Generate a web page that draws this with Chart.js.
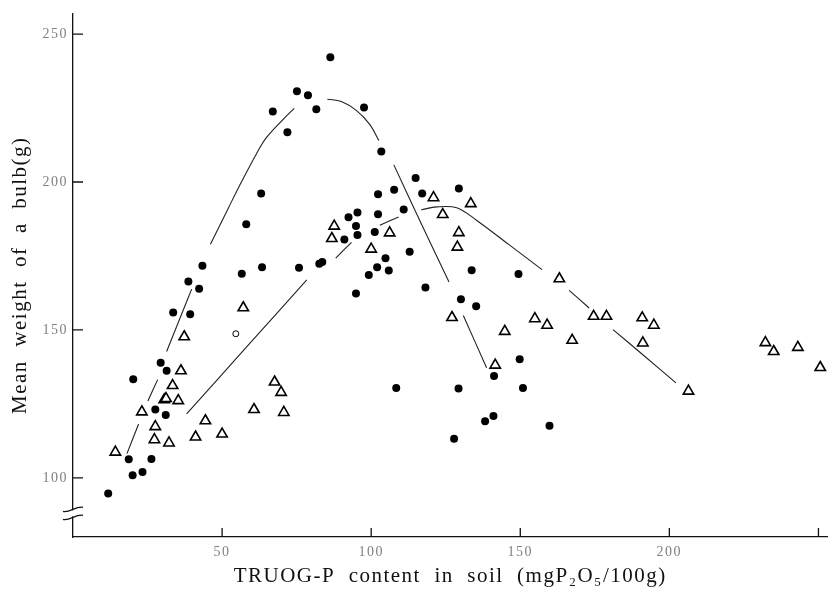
<!DOCTYPE html>
<html>
<head>
<meta charset="utf-8">
<script src="https://cdn.jsdelivr.net/npm/chart.js@4.4.1/dist/chart.umd.min.js"></script>
<style>
  html, body { margin: 0; padding: 0; background: #fff; }
  #wrap { width: 835px; height: 589px; }
</style>
</head>
<body>
<div id="wrap"><canvas id="bulbChart"></canvas></div>
<script>
// filled dots [P content, mean weight]
const solidPts = [
  [11.8, 94.7], [20, 100.9], [23.3, 102], [18.7, 106.3], [26.3, 106.4],
  [20.2, 133.3], [27.6, 123.1], [31.1, 121.2], [29.4, 138.9], [31.4, 136.2],
  [33.6, 155.9], [39.3, 155.3], [38.7, 166.4], [42.3, 163.9], [43.4, 171.7],
  [56.6, 169], [58.1, 185.7], [63.1, 196.1], [63.4, 171.2], [67, 223.8],
  [71.9, 216.8], [75.1, 230.7], [78.8, 229.3], [81.6, 224.6], [86.3, 242.2],
  [97.6, 225.2], [103.4, 210.3], [75.8, 171], [82.6, 172.4], [83.6, 173],
  [94.9, 162.3], [91, 180.6], [92.4, 188.1], [95.4, 189.7], [94.9, 185.1],
  [95.4, 182.1], [101.2, 183.1], [102.3, 189.1], [102.3, 195.9], [107.7, 197.4],
  [110.9, 190.7], [114.9, 201.4], [117.1, 196.1], [112.9, 176.4], [104.8, 174.2],
  [102, 171.2], [105.9, 170.1], [99.2, 168.6], [118.2, 164.3], [129.4, 197.8],
  [133.7, 170.2], [130.1, 160.4], [135.2, 158], [149.4, 168.9], [149.8, 140.1],
  [141.2, 134.4], [129.3, 130.2], [150.9, 130.4], [108.4, 130.4], [141, 120.9],
  [138.2, 119.1], [159.8, 117.6], [127.8, 113.2]
];

// open triangles
const trianglePts = [
  [14.2, 108.7], [23.1, 122.3], [27.6, 117.3], [27.3, 112.9], [32.2, 111.8],
  [30.6, 126.4], [31.2, 126.8], [35.3, 126.1], [33.4, 131.2], [36.2, 136.2],
  [37.3, 147.7], [41.1, 113.8], [44.4, 119.3], [50, 114.8], [57.1, 157.5],
  [60.7, 123.1], [67.6, 132.4], [69.8, 128.9], [70.7, 122.1], [87.6, 185.1],
  [86.8, 180.9], [100, 177.3], [106.2, 182.8], [120.9, 194.7], [124, 189],
  [133.4, 192.7], [129.4, 182.9], [128.9, 178], [127.1, 154.2], [141.6, 138.1],
  [144.8, 149.5], [154.9, 153.8], [159, 151.6], [163.1, 167.3], [167.4, 146.5],
  [174.6, 154.6], [178.9, 154.6], [190.9, 154.1], [194.8, 151.6], [191.1, 145.6],
  [206.4, 129.3], [232.2, 145.7], [235, 142.7], [243.1, 144.1], [250.6, 137.3]
];

// open circle
const openPts = [[54.6, 148.7]];

// fitted curves, null = gap in the pen line
const curveA = [
  [18.1, 108.2], [22, 118.2], null,
  [25.1, 126], [28.4, 133.2], null,
  [31.4, 142.7], [35.5, 153], [39.8, 163.8], null,
  [46.1, 179], [52, 191], [57, 201], [61.5, 209.5], [64.8, 214.9], [70.9, 221.6], [74.2, 224.9], null,
  [85.3, 228], [90, 227.2], [95, 224.2], [99.5, 219.5], [102.6, 214], null,
  [107.6, 205.8], [117, 185.5], [126.1, 166.2], null,
  [130.9, 154.9], [138.7, 137.2]
];
const curveB = [
  [38.1, 121.6], [58, 144], [78.4, 166.9], null,
  [88.1, 174.3], [93.4, 179.6], null,
  [102.9, 185.4], [109.2, 188.2], null,
  [116.8, 190.6], [122, 191.6], [128.7, 191.3], [135.3, 187.1], [146, 179], [157.3, 170.4], null,
  [166.4, 163.4], [173.1, 157.4], null,
  [181.1, 150.1], [191, 141.7], [202.2, 132.1]
];

const xTicks = [50, 100, 150, 200, 250];
const xTickLabels = ['50', '100', '150', '200', ''];
const yTicks = [100, 150, 200, 250];
const yBreak = 88;

const serif = "'Liberation Serif', 'DejaVu Serif', serif";

function toXY(list) {
  let lastX = 0;
  return list.map(p => {
    if (!p) return { x: lastX, y: null };
    lastX = p[0];
    return { x: p[0], y: p[1] };
  });
}

// ticks pointing into the plot + the broken y axis mark
const axisMarks = {
  id: 'axisMarks',
  beforeDraw(chart) {
    chart.ctx.letterSpacing = '1.5px';
  },
  afterDraw(chart) {
    const { ctx, scales: { x, y } } = chart;
    ctx.save();
    ctx.strokeStyle = '#111';
    ctx.lineWidth = 1.3;
    ctx.beginPath();
    xTicks.forEach(v => {
      const px = x.getPixelForValue(v);
      ctx.moveTo(px, y.bottom);
      ctx.lineTo(px, y.bottom - 9);
    });
    yTicks.forEach(v => {
      const py = y.getPixelForValue(v);
      ctx.moveTo(x.left, py);
      ctx.lineTo(x.left + 10, py);
    });
    ctx.stroke();

    const by = y.getPixelForValue(yBreak);
    const ax = x.left;
    ctx.fillStyle = '#fff';
    ctx.fillRect(ax - 2, by - 3, 4, 6);
    ctx.beginPath();
    [-4, 4].forEach(d => {
      ctx.moveTo(ax - 10, by + d + 2);
      ctx.bezierCurveTo(ax - 4, by + d + 4, ax + 4, by + d - 4, ax + 10, by + d - 2);
    });
    ctx.stroke();
    ctx.restore();
  }
};

const ctx = document.getElementById('bulbChart');

new Chart(ctx, {
  type: 'scatter',
  data: {
    datasets: [
      {
        type: 'line',
        data: toXY(curveA),
        borderColor: '#222',
        borderWidth: 1.1,
        pointRadius: 0,
        tension: 0.35,
        spanGaps: false,
        fill: false
      },
      {
        type: 'line',
        data: toXY(curveB),
        borderColor: '#222',
        borderWidth: 1.1,
        pointRadius: 0,
        tension: 0.35,
        spanGaps: false,
        fill: false
      },
      {
        data: solidPts.map(p => ({ x: p[0], y: p[1] })),
        pointStyle: 'circle',
        pointRadius: 4,
        backgroundColor: '#000',
        borderWidth: 0
      },
      {
        data: trianglePts.map(p => ({ x: p[0], y: p[1] })),
        pointStyle: 'triangle',
        pointRadius: 6,
        backgroundColor: '#fff',
        borderColor: '#000',
        borderWidth: 1.6
      },
      {
        data: openPts.map(p => ({ x: p[0], y: p[1] })),
        pointStyle: 'circle',
        pointRadius: 3,
        backgroundColor: '#fff',
        borderColor: '#000',
        borderWidth: 1
      }
    ]
  },
  options: {
    responsive: true,
    maintainAspectRatio: false,
    animation: false,
    layout: { padding: { top: 7, right: 2, left: 0, bottom: 0 } },
    plugins: {
      legend: { display: false },
      tooltip: { enabled: false }
    },
    scales: {
      x: {
        type: 'linear',
        min: 0,
        max: 253,
        grid: { display: false, drawTicks: false },
        border: { color: '#111', width: 1.3 },
        afterBuildTicks: axis => { axis.ticks = xTicks.map(v => ({ value: v })); },
        afterFit: scale => { scale.height = 52; },
        ticks: {
          callback: (v, i) => xTickLabels[i],
          color: '#808080',
          font: { family: serif, size: 14 },
          padding: 7,
          maxRotation: 0,
          autoSkip: false
        },
        title: {
          display: true,
          text: 'TRUOG-P  content  in  soil  (mgP₂O₅/100g)',
          color: '#111',
          font: { family: serif, size: 21 },
          padding: { top: 0, bottom: 0 }
        }
      },
      y: {
        type: 'linear',
        min: 80,
        max: 257,
        grid: { display: false, drawTicks: false },
        border: { color: '#111', width: 1.3 },
        afterBuildTicks: axis => { axis.ticks = yTicks.map(v => ({ value: v })); },
        afterFit: scale => { scale.width = 73; },
        ticks: {
          color: '#808080',
          font: { family: serif, size: 14 },
          padding: 5
        },
        title: {
          display: true,
          text: 'Mean  weight  of  a  bulb(g)',
          color: '#111',
          font: { family: serif, size: 21 },
          padding: { top: 8, bottom: 0 }
        }
      }
    }
  },
  plugins: [axisMarks]
});
</script>
</body>
</html>
